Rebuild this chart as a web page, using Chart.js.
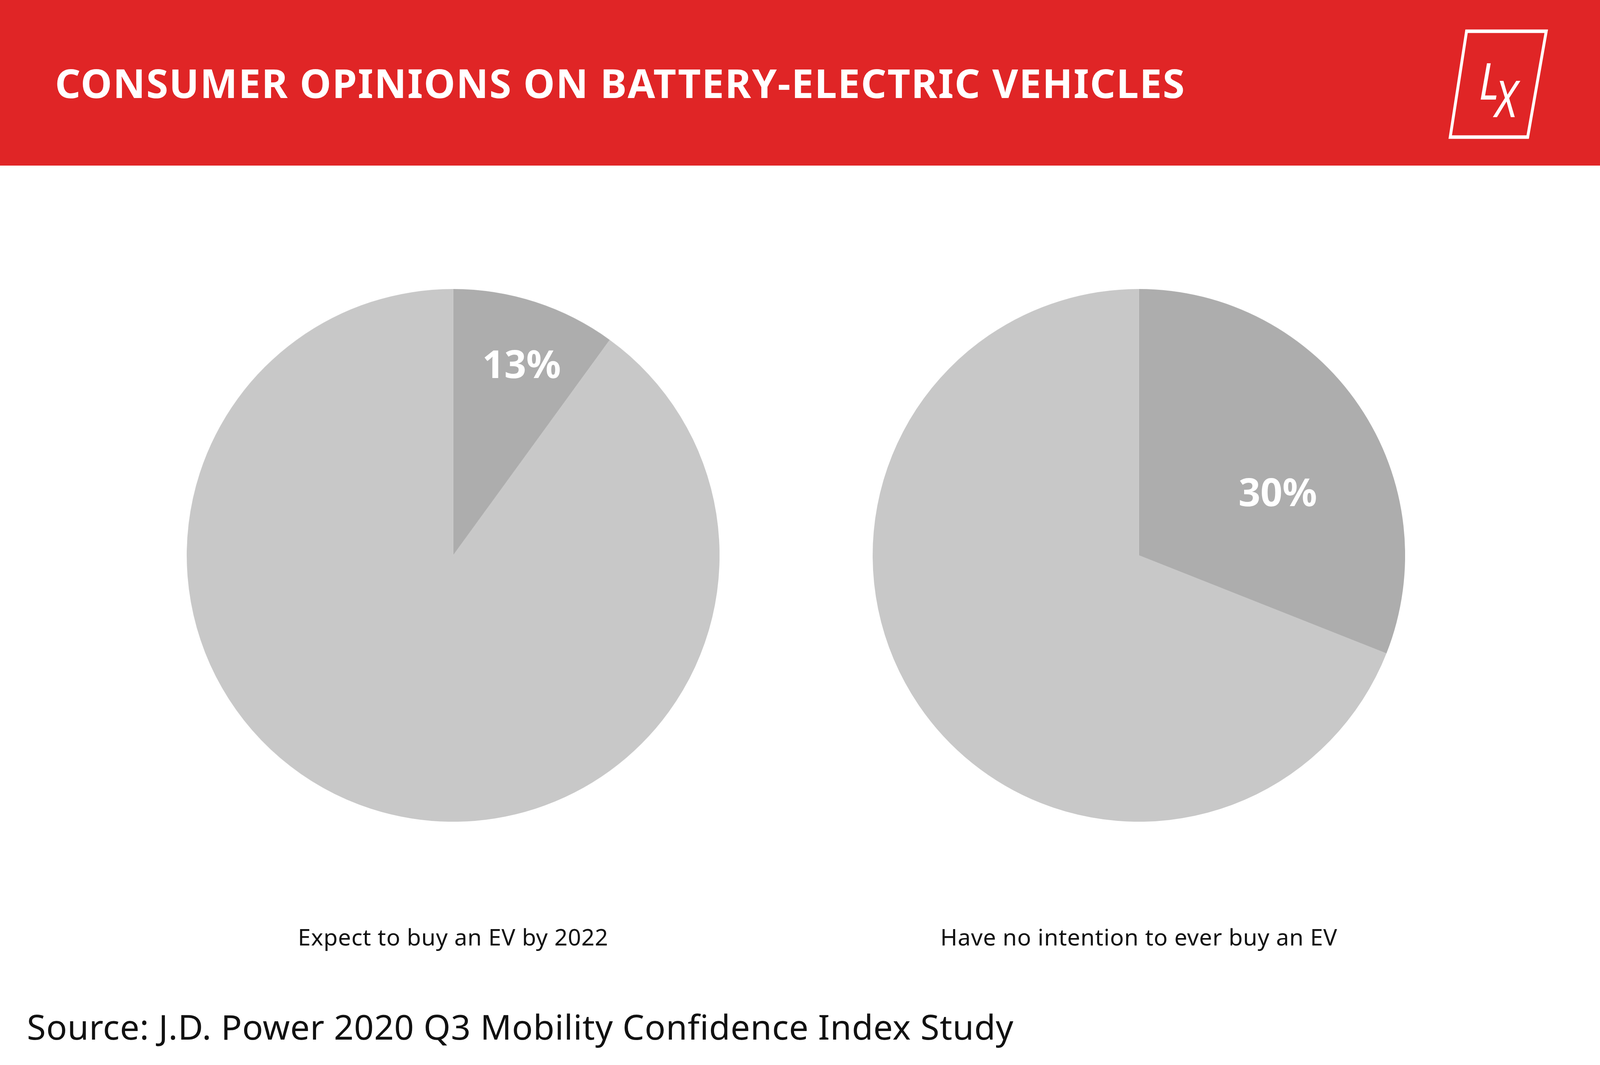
<!DOCTYPE html>
<html><head><meta charset="utf-8">
<script src="https://cdn.jsdelivr.net/npm/chart.js@4"></script>
<style>
html,body{margin:0;padding:0;background:#fff;overflow:hidden;font-family:"Noto Sans",sans-serif}
#root{position:relative;overflow:hidden;background:#fff}
.a{position:absolute;white-space:nowrap;line-height:1}
</style></head><body>
<div id="root"></div>
<script>
const captions = ["Expect to buy an EV by 2022", "Have no intention to ever buy an EV"];
const pctLabels = ["13%", "30%"];
const slicesLeft = [10, 90];
const slicesRight = [31, 69];
const colors = ["#adadad", "#c8c8c8"];
const W = window.innerWidth, H = window.innerHeight;
const sx = W / 5000, sy = H / 2727;
const root = document.getElementById('root');
root.style.width = W + 'px'; root.style.height = H + 'px';
function el(tag, css, txt){ const e = document.createElement(tag); e.className='a'; Object.assign(e.style, css); if(txt!==undefined) e.textContent = txt; root.appendChild(e); return e; }
el('div', {left:'0', top:'0', width:W+'px', height:(424*sy)+'px', background:'#e02526'});
el('div', {left:(172*sx)+'px', top:(212*sy)+'px', transform:'translateY(-50%)', color:'#fff', fontWeight:'700', fontSize:(124*sx)+'px', letterSpacing:(3*sx)+'px'}, 'CONSUMER OPINIONS ON BATTERY-ELECTRIC VEHICLES');
// logo
const ns='http://www.w3.org/2000/svg';
const svg=document.createElementNS(ns,'svg'); svg.setAttribute('width',W); svg.setAttribute('height',424*sy);
svg.setAttribute('viewBox','0 0 5000 424'); svg.setAttribute('preserveAspectRatio','none');
svg.style.position='absolute'; svg.style.left='0'; svg.style.top='0';
svg.innerHTML='<polygon points="4583,80 4832,80 4774,351 4532,351" fill="none" stroke="#fff" stroke-width="9"/>'+
 '<text x="4622" y="255" fill="#fff" font-family="Noto Sans" font-style="italic" font-size="130">L</text>'+
 '<text x="4672" y="300" fill="#fff" font-family="Noto Sans" font-style="italic" font-size="130">X</text>';
root.appendChild(svg);
const D = 1664 * Math.min(sx, sy);
function pie(cx, cy, data){
  const d = el('div', {left:(cx*sx - D/2)+'px', top:(cy*sy - D/2)+'px', width:D+'px', height:D+'px'});
  const c = document.createElement('canvas'); d.appendChild(c);
  new Chart(c, {
    type:'pie',
    data:{labels:['Yes','No'],datasets:[{data:data,backgroundColor:colors,borderWidth:0}]},
    options:{responsive:true,maintainAspectRatio:false,animation:false,
      plugins:{legend:{display:false},tooltip:{enabled:false}},layout:{padding:0}}
  });
}
pie(1416, 1422, slicesLeft);
pie(3559, 1422, slicesRight);
const k = Math.min(sx, sy);
function pct(x, y, t){ el('div', {left:(1416*sx + (x-1416)*k)+'px', top:(1422*sy + (y-1422)*k)+'px', transform:'translate(-50%,-50%)', color:'#fff', fontWeight:'700', fontSize:(120*sx)+'px'}, t); }
el('div', {left:(1416*sx + (1630-1416)*k)+'px', top:(1422*sy + (822-1422)*k)+'px', transform:'translate(-50%,-50%)', color:'#fff', fontWeight:'700', fontSize:(120*sx)+'px'}, pctLabels[0]);
el('div', {left:(3559*sx + (3993-3559)*k)+'px', top:(1422*sy + (1222-1422)*k)+'px', transform:'translate(-50%,-50%)', color:'#fff', fontWeight:'700', fontSize:(120*sx)+'px'}, pctLabels[1]);
el('div', {left:(1416*sx)+'px', top:(2398*sy)+'px', transform:'translate(-50%,-50%)', color:'#111', fontSize:(72*sx)+'px', letterSpacing:sx+'px'}, captions[0]);
el('div', {left:(3559*sx)+'px', top:(2398*sy)+'px', transform:'translate(-50%,-50%)', color:'#111', fontSize:(72*sx)+'px', letterSpacing:sx+'px'}, captions[1]);
el('div', {left:(84*sx)+'px', top:(2628*sy)+'px', transform:'translateY(-50%)', color:'#111', fontSize:(108*sx)+'px', letterSpacing:sx+'px'}, 'Source: J.D. Power 2020 Q3 Mobility Confidence Index Study');
</script>
</body></html>
